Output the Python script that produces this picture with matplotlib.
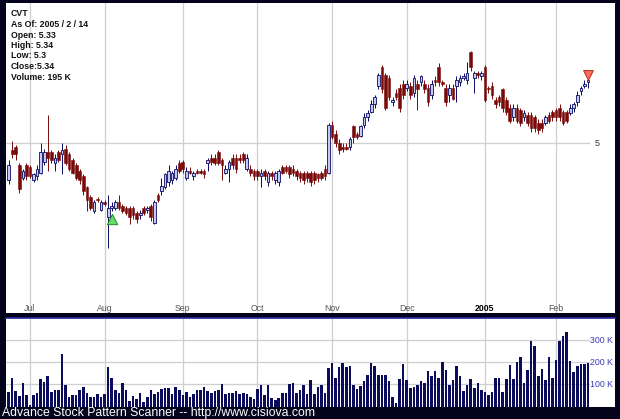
import matplotlib
matplotlib.use("Agg")
import matplotlib.pyplot as plt
import matplotlib.transforms as mtransforms
import numpy as np

plt.rcParams["font.family"] = ["Liberation Sans", "DejaVu Sans"]

# daily OHLC, 2004-06-23 .. 2005-02-14 (trading days)
opens = [4.80, 4.96, 4.98, 4.88, 4.81, 4.88, 4.87, 4.80, 4.82, 4.84,
         4.90, 4.95, 4.95, 4.89, 4.95, 4.94, 4.97, 4.94, 4.91, 4.88,
         4.85, 4.82, 4.76, 4.71, 4.63, 4.70, 4.64, 4.68, 4.60, 4.65,
         4.65, 4.68, 4.66, 4.65, 4.65, 4.65, 4.62, 4.61, 4.65, 4.64,
         4.66, 4.57, 4.72, 4.74, 4.76, 4.79, 4.80, 4.81, 4.89, 4.90,
         4.81, 4.85, 4.82, 4.85, 4.85, 4.85, 4.89, 4.92, 4.92, 4.95,
         4.91, 4.84, 4.86, 4.92, 4.92, 4.92, 4.94, 4.86, 4.86, 4.85,
         4.85, 4.82, 4.85, 4.79, 4.84, 4.80, 4.79, 4.87, 4.87, 4.87,
         4.86, 4.85, 4.84, 4.84, 4.84, 4.84, 4.84, 4.83, 4.84, 4.86,
         4.84, 5.10, 5.05, 5.00, 4.98, 4.98, 4.98, 5.09, 5.05, 5.04,
         5.10, 5.14, 5.17, 5.21, 5.31, 5.41, 5.37, 5.35, 5.22, 5.27,
         5.30, 5.32, 5.30, 5.31, 5.27, 5.32, 5.33, 5.32, 5.30, 5.26,
         5.34, 5.41, 5.33, 5.30, 5.26, 5.30, 5.31, 5.33, 5.35, 5.34,
         5.49, 5.35, 5.38, 5.36, 5.41, 5.30, 5.31, 5.23, 5.25, 5.29,
         5.23, 5.19, 5.14, 5.19, 5.18, 5.14, 5.15, 5.15, 5.14, 5.11,
         5.11, 5.11, 5.15, 5.17, 5.18, 5.19, 5.17, 5.17, 5.16, 5.19,
         5.22, 5.28, 5.31, 5.33]
highs = [4.91, 5.01, 4.99, 4.89, 4.86, 4.89, 4.88, 4.84, 4.88, 5.00,
         4.97, 5.15, 4.96, 4.94, 4.96, 5.00, 4.99, 4.95, 4.92, 4.89,
         4.86, 4.83, 4.77, 4.72, 4.69, 4.71, 4.69, 4.69, 4.72, 4.68,
         4.69, 4.72, 4.67, 4.66, 4.66, 4.66, 4.63, 4.64, 4.66, 4.66,
         4.67, 4.69, 4.73, 4.81, 4.84, 4.88, 4.85, 4.88, 4.91, 4.91,
         4.87, 4.87, 4.85, 4.86, 4.86, 4.86, 4.92, 4.94, 4.94, 4.96,
         4.92, 4.88, 4.91, 4.94, 4.94, 4.94, 4.95, 4.94, 4.88, 4.86,
         4.86, 4.86, 4.86, 4.85, 4.85, 4.85, 4.86, 4.88, 4.88, 4.88,
         4.88, 4.86, 4.85, 4.85, 4.85, 4.85, 4.85, 4.84, 4.85, 4.88,
         5.11, 5.12, 5.07, 5.02, 5.00, 5.00, 5.03, 5.10, 5.06, 5.10,
         5.16, 5.18, 5.23, 5.26, 5.38, 5.42, 5.38, 5.37, 5.25, 5.29,
         5.32, 5.34, 5.34, 5.33, 5.37, 5.34, 5.37, 5.34, 5.32, 5.34,
         5.36, 5.43, 5.34, 5.32, 5.32, 5.32, 5.36, 5.37, 5.38, 5.44,
         5.50, 5.39, 5.39, 5.39, 5.42, 5.31, 5.33, 5.25, 5.26, 5.30,
         5.25, 5.21, 5.21, 5.21, 5.19, 5.18, 5.17, 5.17, 5.15, 5.13,
         5.13, 5.15, 5.17, 5.18, 5.19, 5.21, 5.18, 5.18, 5.21, 5.22,
         5.28, 5.31, 5.34, 5.34]
lows = [4.78, 4.92, 4.91, 4.73, 4.80, 4.80, 4.81, 4.79, 4.80, 4.83,
        4.88, 4.85, 4.89, 4.85, 4.90, 4.83, 4.88, 4.85, 4.83, 4.80,
        4.78, 4.72, 4.63, 4.64, 4.62, 4.68, 4.63, 4.66, 4.43, 4.63,
        4.64, 4.64, 4.62, 4.61, 4.56, 4.59, 4.57, 4.59, 4.61, 4.62,
        4.58, 4.56, 4.68, 4.72, 4.75, 4.77, 4.78, 4.80, 4.84, 4.84,
        4.80, 4.83, 4.80, 4.83, 4.83, 4.81, 4.85, 4.88, 4.88, 4.88,
        4.80, 4.83, 4.79, 4.86, 4.84, 4.89, 4.89, 4.85, 4.82, 4.80,
        4.80, 4.76, 4.80, 4.77, 4.80, 4.78, 4.77, 4.83, 4.84, 4.81,
        4.82, 4.80, 4.79, 4.78, 4.79, 4.77, 4.78, 4.79, 4.80, 4.80,
        4.83, 5.02, 4.98, 4.94, 4.95, 4.96, 4.96, 5.00, 5.02, 5.03,
        5.08, 5.12, 5.16, 5.19, 5.29, 5.27, 5.18, 5.23, 5.20, 5.23,
        5.17, 5.24, 5.28, 5.24, 5.25, 5.18, 5.31, 5.27, 5.20, 5.24,
        5.31, 5.31, 5.31, 5.20, 5.22, 5.23, 5.22, 5.31, 5.34, 5.32,
        5.39, 5.27, 5.35, 5.34, 5.22, 5.27, 5.24, 5.19, 5.20, 5.17,
        5.15, 5.11, 5.12, 5.11, 5.09, 5.12, 5.09, 5.06, 5.06, 5.05,
        5.06, 5.10, 5.11, 5.12, 5.12, 5.12, 5.10, 5.11, 5.15, 5.17,
        5.20, 5.26, 5.30, 5.30]
closes = [4.88, 4.94, 4.94, 4.75, 4.85, 4.82, 4.82, 4.83, 4.86, 4.95,
          4.95, 4.92, 4.91, 4.92, 4.91, 4.96, 4.89, 4.86, 4.84, 4.81,
          4.80, 4.74, 4.69, 4.65, 4.68, 4.69, 4.68, 4.67, 4.65, 4.66,
          4.68, 4.65, 4.63, 4.62, 4.60, 4.61, 4.59, 4.62, 4.62, 4.65,
          4.60, 4.68, 4.69, 4.77, 4.83, 4.85, 4.84, 4.86, 4.85, 4.86,
          4.85, 4.84, 4.84, 4.84, 4.84, 4.83, 4.91, 4.90, 4.89, 4.89,
          4.88, 4.86, 4.90, 4.88, 4.86, 4.91, 4.91, 4.92, 4.84, 4.82,
          4.82, 4.84, 4.82, 4.84, 4.82, 4.84, 4.85, 4.84, 4.85, 4.83,
          4.84, 4.82, 4.81, 4.80, 4.81, 4.79, 4.80, 4.81, 4.81, 4.82,
          5.10, 5.03, 5.00, 4.96, 4.97, 4.97, 5.02, 5.03, 5.03, 5.09,
          5.14, 5.16, 5.21, 5.25, 5.37, 5.29, 5.19, 5.25, 5.23, 5.25,
          5.19, 5.26, 5.32, 5.26, 5.35, 5.29, 5.36, 5.29, 5.22, 5.32,
          5.33, 5.33, 5.32, 5.22, 5.30, 5.24, 5.34, 5.35, 5.36, 5.38,
          5.41, 5.38, 5.37, 5.38, 5.23, 5.29, 5.26, 5.21, 5.22, 5.19,
          5.17, 5.12, 5.19, 5.12, 5.11, 5.16, 5.11, 5.08, 5.08, 5.07,
          5.08, 5.14, 5.12, 5.14, 5.14, 5.14, 5.11, 5.12, 5.19, 5.21,
          5.26, 5.30, 5.32, 5.34]

# daily volume, thousands of shares
volumes = [65, 129, 68, 47, 108, 50, 9, 50, 61, 123,
           111, 136, 65, 76, 74, 236, 98, 45, 50, 52,
           74, 88, 61, 42, 45, 55, 45, 55, 179, 130,
           74, 61, 106, 74, 23, 47, 35, 61, 20, 42,
           76, 55, 65, 80, 84, 84, 55, 87, 74, 50,
           65, 42, 55, 74, 74, 87, 70, 60, 72, 75,
           100, 55, 62, 60, 70, 58, 62, 55, 45, 35,
           80, 95, 50, 95, 40, 30, 40, 60, 62, 100,
           108, 60, 73, 95, 55, 118, 58, 88, 95, 62,
           174, 198, 130, 179, 197, 179, 182, 95, 77, 92,
           115, 141, 198, 182, 144, 141, 141, 115, 45, 15,
           126, 191, 118, 83, 88, 95, 115, 108, 161, 136,
           161, 129, 202, 167, 95, 121, 182, 136, 68, 95,
           126, 85, 106, 76, 65, 50, 65, 129, 129, 65,
           126, 186, 123, 202, 224, 106, 167, 297, 273, 136,
           171, 118, 224, 129, 212, 295, 318, 335, 205, 156,
           182, 194, 194, 195]

# month boundaries: (label, index of first trading day)
month_labels = ["Jul", "Aug", "Sep", "Oct", "Nov", "Dec", "2005", "Feb"]
month_starts = [6, 27, 49, 70, 91, 112, 134, 154]

vol_ticks = [100, 200, 300]
vol_tick_labels = ["100 K", "200 K", "300 K"]

# pattern signals (index, price)
buy_signal = (29, 4.59)
sell_signal = (163, 5.37)

info_lines = ["CVT", "As Of: 2005 / 2 / 14", "Open: 5.33", "High: 5.34",
              "Low: 5.3", "Close:5.34", "Volume: 195 K"]

W, H = 620, 419
frame = "#03031c"
up_face, up_edge = "#c9c9e9", "#0a0a66"
down_col = "#7a0a0a"
grid_col = "#cfcfcf"

fig = plt.figure(figsize=(W / 100, H / 100), dpi=100, facecolor=frame)


def px_axes(x0, y0, x1, y1):
    return fig.add_axes([x0 / W, 1 - y1 / H, (x1 - x0) / W, (y1 - y0) / H])


ax = px_axes(6, 3, 615, 313)
axv = px_axes(6, 318, 615, 406.5)

n = len(closes)
idx = np.arange(n)
o = np.array(opens)
c = np.array(closes)
hi = np.array(highs)
lo = np.array(lows)
up = c >= o

xlim = (-0.75, 170.6)
for a in (ax, axv):
    a.set_facecolor("white")
    a.set_xlim(*xlim)
    a.set_xticks([])
    a.set_yticks([])
    for s in a.spines.values():
        s.set_visible(False)
    for m in month_starts:
        a.axvline(m, color=grid_col, lw=0.9, zorder=0)

ax.set_ylim(4.081, 5.757)
axv.set_ylim(0, 400)

# price grid line and label
ax.axhline(5.0, xmin=0, xmax=0.958, color=grid_col, lw=0.9, zorder=0)
ax.text(0.971, 5.0, "5", transform=mtransforms.blended_transform_factory(ax.transAxes, ax.transData),
        ha="center", va="center", fontsize=6.5, color="#333333")

# candles
ax.vlines(idx[up], lo[up], hi[up], color=up_edge, lw=0.7, zorder=2)
ax.vlines(idx[~up], lo[~up], hi[~up], color=down_col, lw=0.7, zorder=2)
body_lo = np.minimum(o, c)
body_h = np.maximum(np.abs(c - o), 0.006)
ax.bar(idx[up], body_h[up], bottom=body_lo[up], width=0.75,
       facecolor=up_face, edgecolor=up_edge, lw=0.6, zorder=3)
ax.bar(idx[~up], body_h[~up], bottom=body_lo[~up], width=0.75,
       facecolor=down_col, edgecolor=down_col, lw=0.4, zorder=3)

# signals
ax.scatter([buy_signal[0]], [buy_signal[1]], marker="^", s=55,
           facecolor="#66dd66", edgecolor="#1f8a1f", lw=0.7, zorder=4)
ax.scatter([sell_signal[0]], [sell_signal[1]], marker="v", s=50,
           facecolor="#ff6b5e", edgecolor="#b03020", lw=0.7, zorder=4)

# month labels
tb = mtransforms.blended_transform_factory(ax.transData, ax.transAxes)
for lab, m in zip(month_labels, month_starts):
    bold = lab.isdigit()
    ax.text(m, 0.013, lab, transform=tb, ha="center", va="center",
            fontsize=6.3, color="#000000" if bold else "#555555",
            fontweight="bold" if bold else "normal")

# volume
axv.bar(idx, volumes, width=0.72, color="#0c0c5c", zorder=2)
for t, lab in zip(vol_ticks, vol_tick_labels):
    axv.axhline(t, xmin=0, xmax=0.958, color=grid_col, lw=0.9, zorder=0)
    axv.text(0.997, t, lab, transform=mtransforms.blended_transform_factory(axv.transAxes, axv.transData),
             ha="right", va="center", fontsize=6.3, color="#3a3ab4")
axv.plot([0, 1], [1, 1], transform=axv.transAxes, color="#2828a0", lw=1.2, clip_on=False)

# info block
for k, line in enumerate(info_lines):
    fig.text(11 / W, 1 - (14 + k * 10.5) / H, line, ha="left", va="center",
             fontsize=6.3, fontweight="bold", color="#111111")

fig.text(2 / W, 1 - 413 / H, "Advance Stock Pattern Scanner -- http://www.cisiova.com",
         ha="left", va="center", fontsize=8.8, color="white")

fig.savefig("out.png", dpi=100, facecolor=frame)
